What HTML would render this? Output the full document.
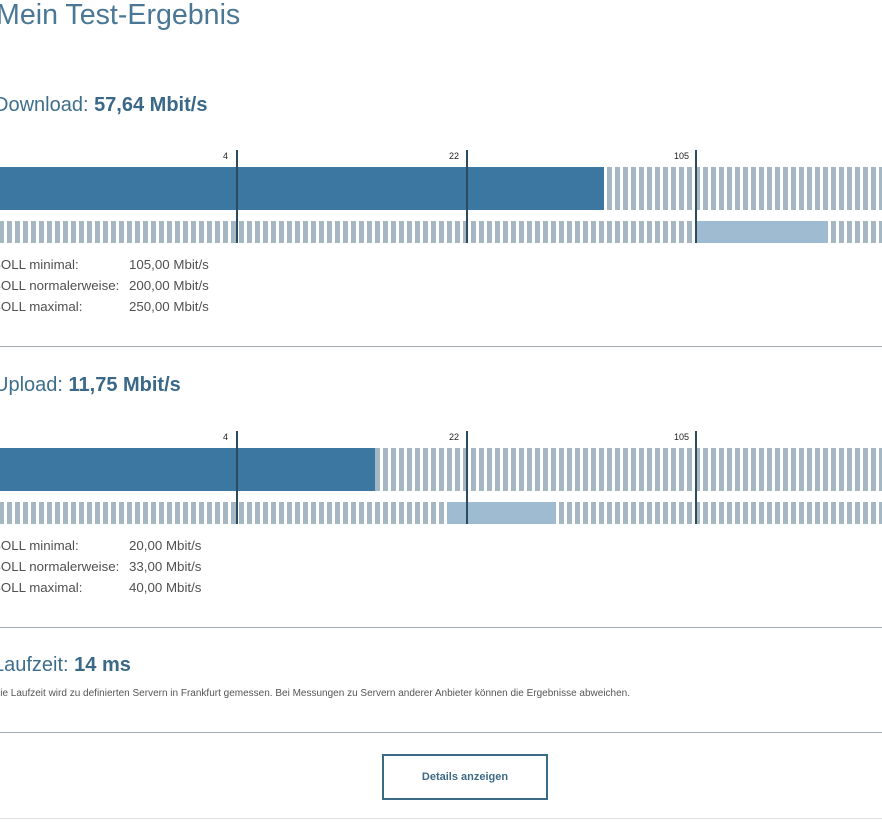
<!DOCTYPE html>
<html>
<head>
<meta charset="utf-8">
<style>
  html, body { margin:0; padding:0; background:#fff; }
  body { width:882px; height:830px; position:relative; overflow:hidden;
         font-family:"Liberation Sans", Arial, sans-serif; }
  .t { position:absolute; white-space:nowrap; line-height:1; }
  .title { font-size:28.6px; color:#4a7796; left:-4px; top:0.8px; }
  .h { font-size:20px; color:#3f6e8d; left:-6px; }
  .h b { color:#3a6888; }
  .lg { font-size:13.3px; color:#505050; }
  .tick { font-size:9px; color:#222; text-align:right; width:40px; }
  .bar { position:absolute; left:0; width:882px;
         background: repeating-linear-gradient(90deg, #a4b7c3 0 5px, #fff 5px 8px);
         background-position:-1px 0; }
  .dark { position:absolute; left:0; background:#3b77a1; }
  .light { position:absolute; background:#9ebbd2; }
  .vl { position:absolute; width:2px; background:#2a4b60; }
  .hr { position:absolute; left:0; width:882px; height:1px; background:#a3abb1; }
  .p { font-size:10px; color:#555; left:-7px; }
  .btn { position:absolute; left:382px; top:754px; width:162px; height:42px;
         border:2px solid #3b6a86; display:flex; align-items:center; justify-content:center;
         font-size:11px; font-weight:bold; color:#3f6a86; }
</style>
</head>
<body>
<div class="t title">Mein Test-Ergebnis</div>

<!-- Download -->
<div class="t h" style="top:94.6px">Download: <b>57,64 Mbit/s</b></div>

<div class="bar" style="top:167px;height:43px"></div>
<div class="dark" style="top:167px;height:43px;width:604px"></div>
<div class="bar" style="top:221px;height:22px"></div>
<div class="light" style="top:221px;height:22px;left:697px;width:130px"></div>

<div class="vl" style="left:236px;top:150px;height:93px"></div>
<div class="vl" style="left:466px;top:150px;height:93px"></div>
<div class="vl" style="left:695px;top:150px;height:93px"></div>
<div class="t tick" style="left:188px;top:151.9px">4</div>
<div class="t tick" style="left:419px;top:151.9px">22</div>
<div class="t tick" style="left:649px;top:151.9px">105</div>

<div class="t lg" style="left:-8px;top:257.7px">SOLL minimal:</div>
<div class="t lg" style="left:-8px;top:278.7px">SOLL normalerweise:</div>
<div class="t lg" style="left:-8px;top:299.7px">SOLL maximal:</div>
<div class="t lg" style="left:129px;top:257.7px">105,00 Mbit/s</div>
<div class="t lg" style="left:129px;top:278.7px">200,00 Mbit/s</div>
<div class="t lg" style="left:129px;top:299.7px">250,00 Mbit/s</div>

<div class="hr" style="top:346px"></div>

<!-- Upload -->
<div class="t h" style="top:374.6px">Upload: <b>11,75 Mbit/s</b></div>

<div class="bar" style="top:448px;height:43px"></div>
<div class="dark" style="top:448px;height:43px;width:375px"></div>
<div class="bar" style="top:502px;height:22px"></div>
<div class="light" style="top:502px;height:22px;left:447px;width:108px"></div>

<div class="vl" style="left:236px;top:431px;height:93px"></div>
<div class="vl" style="left:466px;top:431px;height:93px"></div>
<div class="vl" style="left:695px;top:431px;height:93px"></div>
<div class="t tick" style="left:188px;top:432.9px">4</div>
<div class="t tick" style="left:419px;top:432.9px">22</div>
<div class="t tick" style="left:649px;top:432.9px">105</div>

<div class="t lg" style="left:-8px;top:538.7px">SOLL minimal:</div>
<div class="t lg" style="left:-8px;top:559.7px">SOLL normalerweise:</div>
<div class="t lg" style="left:-8px;top:580.7px">SOLL maximal:</div>
<div class="t lg" style="left:129px;top:538.7px">20,00 Mbit/s</div>
<div class="t lg" style="left:129px;top:559.7px">33,00 Mbit/s</div>
<div class="t lg" style="left:129px;top:580.7px">40,00 Mbit/s</div>

<div class="hr" style="top:627px"></div>

<!-- Laufzeit -->
<div class="t h" style="top:655px;left:-7px">Laufzeit: <b>14 ms</b></div>
<div class="t p" style="top:688.5px">Die Laufzeit wird zu definierten Servern in Frankfurt gemessen. Bei Messungen zu Servern anderer Anbieter können die Ergebnisse abweichen.</div>

<div class="hr" style="top:732px"></div>

<div class="btn">Details anzeigen</div>

<div class="hr" style="top:818px;background:#e0e0e0"></div>
</body>
</html>
